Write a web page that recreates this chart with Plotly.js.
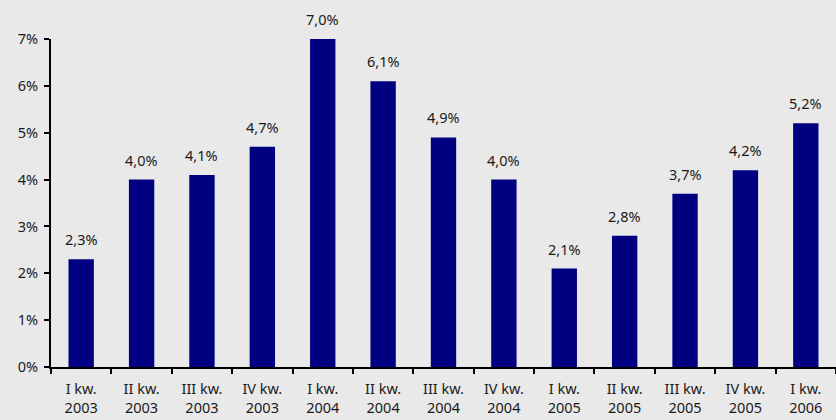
<!DOCTYPE html>
<html>
<head>
<meta charset="utf-8">
<script src="https://cdn.plot.ly/plotly-3.0.1.min.js"></script>
<style>html,body{margin:0;padding:0;background:#e9e9e9;}#chart{width:836px;height:420px;}</style>
</head>
<body>
<div id="chart"></div>
<script>
const categories = ["I kw.<br>2003","II kw.<br>2003","III kw.<br>2003","IV kw.<br>2003","I kw.<br>2004","II kw.<br>2004","III kw.<br>2004","IV kw.<br>2004","I kw.<br>2005","II kw.<br>2005","III kw.<br>2005","IV kw.<br>2005","I kw.<br>2006"];
const values = [2.3, 4.0, 4.1, 4.7, 7.0, 6.1, 4.9, 4.0, 2.1, 2.8, 3.7, 4.2, 5.2];
const yTicks = [0,1,2,3,4,5,6,7];
const labels = values.map(v => v.toFixed(1).replace('.', ',') + '%');

const font = {family: '"Noto Sans", "Liberation Sans", sans-serif', size: 14.5, color: '#1a1a1a'};

const trace = {
  type: 'bar',
  x: categories,
  y: values,
  marker: {color: '#000080'},
  width: 0.42,
  hoverinfo: 'none'
};

const annotations = categories.map((c, i) => ({
  x: c, y: values[i], xref: 'x', yref: 'y',
  text: labels[i], showarrow: false,
  yanchor: 'bottom', yshift: 8,
  font: font
}));

const layout = {
  width: 836, height: 420,
  margin: {l: 51, r: 0, t: 39, b: 53},
  paper_bgcolor: '#e9e9e9',
  plot_bgcolor: '#e9e9e9',
  font: font,
  showlegend: false,
  bargap: 0.58,
  xaxis: {
    type: 'category',
    showline: true, linecolor: '#000', linewidth: 2,
    ticks: 'outside', tickson: 'boundaries', ticklen: 5, tickwidth: 2, tickcolor: '#000',
    showgrid: false, zeroline: false,
    ticklabelstandoff: 8,
    tickfont: font, fixedrange: true
  },
  yaxis: {
    range: [0, 7],
    tickvals: yTicks,
    ticktext: yTicks.map(t => t + '%'),
    showline: true, linecolor: '#000', linewidth: 2,
    ticks: 'outside', ticklen: 5, tickwidth: 2, tickcolor: '#000',
    showgrid: false, zeroline: false,
    ticklabelstandoff: 3,
    tickfont: font, fixedrange: true
  },
  annotations: annotations
};

Plotly.newPlot('chart', [trace], layout, {displayModeBar: false, staticPlot: true});
</script>
</body>
</html>
